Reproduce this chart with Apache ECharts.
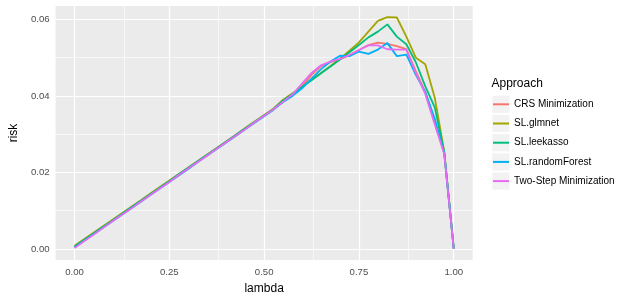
<!DOCTYPE html>
<html><head><meta charset="utf-8">
<script src="https://cdn.jsdelivr.net/npm/echarts@6/dist/echarts.min.js"></script>
<style>html,body{margin:0;padding:0;background:#fff}#c{width:629px;height:300px}</style>
</head><body><div id="c"></div>
<script>
const lambda = [0,0.025,0.05,0.075,0.1,0.125,0.15,0.175,0.2,0.225,0.25,0.275,0.3,0.325,0.35,0.375,0.4,0.425,0.45,0.475,0.5,0.525,0.55,0.575,0.6,0.625,0.65,0.675,0.7,0.725,0.75,0.775,0.8,0.825,0.85,0.875,0.9,0.925,0.95,0.975,1.0];
const seriesNames = ["CRS Minimization","SL.glmnet","SL.leekasso","SL.randomForest","Two-Step Minimization"];
const crs = [.0005,.0022,.0039,.0056,.0073,.0091,.0108,.0125,.0142,.0160,.0177,.0194,.0211,.0228,.0245,.0263,.0280,.0297,.0314,.0331,.0348,.0366,
  .0385,.0402,.0425,.0455,.0478,.0488,.0496,.0506,.0520,.0533,.0539,.0536,.0530,.0522,.0465,.0410,.0330,.0250,.0000];
const glmnet = [.0008,.0025,.0042,.0059,.0076,.0093,.0110,.0127,.0145,.0162,.0179,.0196,.0213,.0230,.0247,.0264,.0281,.0298,.0316,.0333,.0350,.0367,
  .0390,.0407,.0424,.0442,.0460,.0478,.0497,.0518,.0540,.0568,.0596,.0606,.0605,.0555,.0500,.0483,.0395,.0255,.0003];
const leekasso = [.0006,.0023,.0040,.0057,.0074,.0091,.0109,.0126,.0143,.0160,.0177,.0195,.0212,.0229,.0246,.0263,.0280,.0298,.0315,.0332,.0349,.0366,
  .0388,.0405,.0423,.0441,.0459,.0477,.0495,.0514,.0533,.0553,.0568,.0587,.0555,.0535,.0488,.0425,.0370,.0252,.0003];
const randomForest = [.0004,.0021,.0038,.0055,.0072,.0089,.0106,.0123,.0141,.0158,.0175,.0192,.0209,.0227,.0244,.0261,.0278,.0295,.0313,.0330,.0347,.0364,
  .0384,.0400,.0420,.0445,.0470,.0490,.0505,.0504,.0516,.0510,.0521,.0538,.0504,.0508,.0455,.0410,.0340,.0250,.0000];
const twoStep = [.0002,.0020,.0037,.0055,.0072,.0089,.0106,.0124,.0141,.0158,.0175,.0193,.0210,.0227,.0244,.0262,.0279,.0296,.0313,.0331,.0348,.0365,
  .0385,.0404,.0432,.0460,.0480,.0490,.0497,.0507,.0520,.0532,.0532,.0522,.0521,.0521,.0460,.0405,.0325,.0248,.0000];
const xTicks = [0,0.25,0.5,0.75,1.0];
const xMinor = [0.125,0.375,0.625,0.875];
const yTicks = [0,0.02,0.04,0.06];
const yMinor = [0.01,0.03,0.05];
const colors = ["#F8766D","#A3A500","#00BF7D","#00B0F6","#E76BF3"];
const allData = [crs, glmnet, leekasso, randomForest, twoStep];

const chart = echarts.init(document.getElementById('c'), null, {renderer:'canvas'});
const FONT = 'Liberation Sans, Arial, sans-serif';
const gridLines = [];
xMinor.forEach(v=>gridLines.push({xAxis:v, lineStyle:{color:'#fff',width:0.6,type:'solid'}}));
yMinor.forEach(v=>gridLines.push({yAxis:v, lineStyle:{color:'#fff',width:0.6,type:'solid'}}));
xTicks.forEach(v=>gridLines.push({xAxis:v, lineStyle:{color:'#fff',width:1.2,type:'solid'}}));
yTicks.forEach(v=>gridLines.push({yAxis:v, lineStyle:{color:'#fff',width:1.2,type:'solid'}}));

const series = seriesNames.map((n,i)=>({
  name:n, type:'line', data: lambda.map((x,j)=>[x, allData[i][j]]),
  showSymbol:false, symbol:'none', lineStyle:{width:1.8,color:colors[i]}, itemStyle:{color:colors[i]},
  animation:false, z: 2 + i,
  markLine: i===0 ? {silent:true, symbol:'none', z:1, label:{show:false}, animation:false, data: gridLines} : undefined
}));

const legendTop = 98.3, legendStep = 19.2;
const legendKeys = seriesNames.map((n,i)=>({type:'rect', silent:true, shape:{x:492.3, y:legendTop + 6 - 8.6 + i*legendStep, width:17.2, height:17.2}, style:{fill:'#F2F2F2'}, z:-1}));

chart.setOption({
  animation:false,
  backgroundColor:'#fff',
  color: colors,
  title:{text:'Approach', left:491.5, top:78, padding:0, textStyle:{fontFamily:FONT, fontSize:12, fontWeight:'normal', color:'#000'}},
  legend:{orient:'vertical', left:493, top:legendTop, padding:0, itemWidth:16, itemHeight:2, itemGap:legendStep-12, icon:'rect',
    data: seriesNames.map((n,i)=>({name:n, itemStyle:{color:colors[i]}})),
    textStyle:{fontFamily:FONT, fontSize:10, color:'#000', lineHeight:12}},
  graphic: legendKeys,
  grid:{left:47.7, right:156.3, top:6, bottom:36.7, show:true, backgroundColor:'#EBEBEB', borderWidth:0, containLabel:false},
  xAxis:{type:'value', min:-0.05, max:1.05, name:'lambda', nameLocation:'middle', nameGap:23,
    nameTextStyle:{fontFamily:FONT, fontSize:12, color:'#000'},
    axisLine:{show:false}, splitLine:{show:false},
    axisTick:{show:true, length:3, lineStyle:{color:'#333'}, customValues:xTicks},
    axisLabel:{customValues:xTicks, formatter:v=>v.toFixed(2), fontFamily:FONT, fontSize:9.6, color:'#4D4D4D', margin:7}},
  yAxis:{type:'value', min:-0.0029, max:0.0635, name:'risk', nameLocation:'middle', nameGap:33, nameRotate:90,
    nameTextStyle:{fontFamily:FONT, fontSize:12, color:'#000'},
    axisLine:{show:false}, splitLine:{show:false},
    axisTick:{show:true, length:3, lineStyle:{color:'#333'}, customValues:yTicks},
    axisLabel:{customValues:yTicks, formatter:v=>v.toFixed(2), fontFamily:FONT, fontSize:9.6, color:'#4D4D4D', margin:6}},
  series: series
});
</script></body></html>
